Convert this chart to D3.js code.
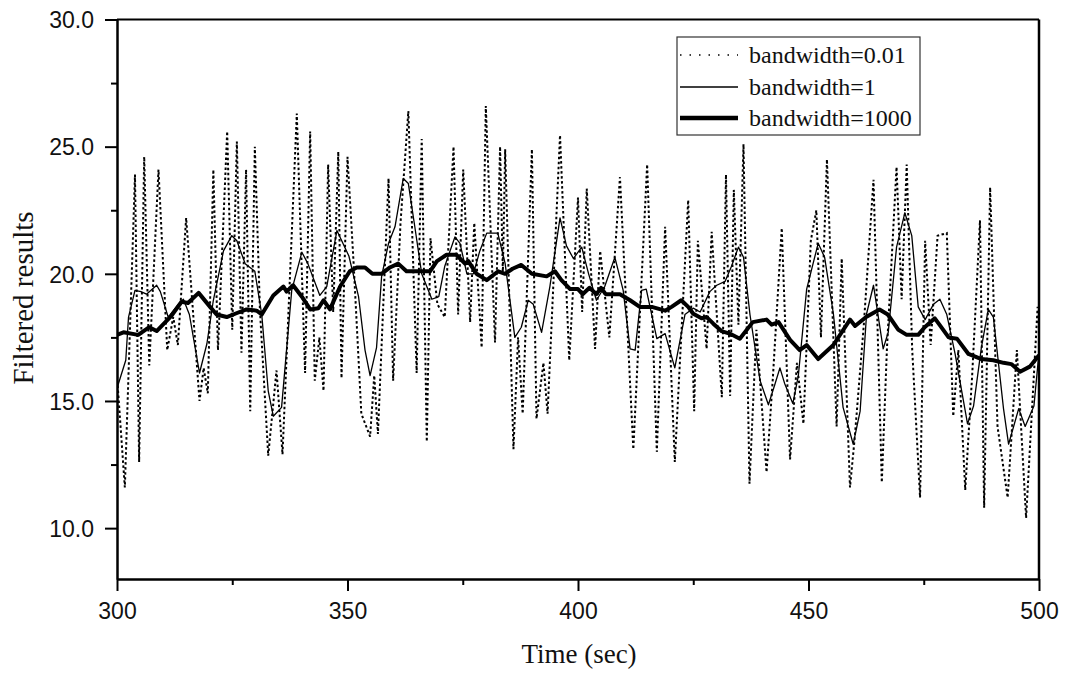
<!DOCTYPE html>
<html><head><meta charset="utf-8">
<script src="https://cdn.jsdelivr.net/npm/d3@7"></script>
<style>body{margin:0;background:#fff}</style>
</head><body>
<svg id="c" width="1065" height="673"></svg>
<script>
// ---- data ----
const xTicks = [300, 350, 400, 450, 500];
const xMinorTicks = [325, 375, 425, 475];
const yTicks = [10, 15, 20, 25, 30];
const yMinorTicks = [12.5, 17.5, 22.5, 27.5];
const seriesNames = ["bandwidth=0.01", "bandwidth=1", "bandwidth=1000"];

// bandwidth = 0.01 (dotted) : [time, value]
const bw001 = [
[300,16.0],[301.7,11.6],[303.9,23.9],[304.8,12.6],[305.9,24.6],[307.0,16.4],[309.0,24.1],[310.9,17.0],
[312.2,18.3],[313.2,17.2],[315.0,22.2],[317.9,15.0],[318.8,16.3],[319.7,15.3],[320.9,24.1],[321.9,17.0],
[323.9,25.6],[325.0,17.8],[326.0,25.2],[327.0,16.9],[328.0,24.1],[328.9,14.6],[329.9,25.0],[331.0,18.6],
[332.8,12.85],[334.6,16.2],[335.9,12.9],[339.0,26.3],[340.8,16.1],[341.9,25.6],[342.9,15.8],[343.9,17.5],
[344.8,15.4],[345.8,24.3],[346.9,18.5],[348.0,24.8],[348.7,15.9],[350.0,24.6],[351.3,20.5],[353.0,14.5],
[354.9,13.6],[355.8,16.0],[356.6,13.7],[358.9,23.75],[359.9,15.8],[361.5,22.0],[363.2,26.4],[365.0,16.1],
[366.1,25.3],[367.2,13.4],[368.0,21.4],[369.5,18.8],[371.1,18.3],[373.0,25.0],[374.0,18.4],[375.1,24.1],
[376.6,18.1],[377.5,22.0],[379.1,17.1],[380.0,26.6],[382.0,17.3],[383.1,25.0],[383.7,20.0],[384.2,24.9],
[386.0,13.1],[387.0,17.5],[388.0,14.5],[390.0,24.9],[391.0,14.3],[392.5,16.5],[393.4,14.5],[396.1,25.45],
[398.1,16.6],[400.0,23.0],[400.9,18.5],[401.9,23.35],[403.7,17.05],[404.8,20.9],[406.8,17.5],[409.1,23.8],
[412.0,13.1],[415.0,24.3],[417.1,13.0],[418.9,21.85],[421.0,12.6],[423.9,22.9],[425.2,14.6],[426.0,21.3],
[427.9,17.05],[429.0,21.65],[431.2,15.15],[432.1,23.9],[433.0,15.2],[433.8,23.3],[434.8,18.0],[435.9,25.1],
[437.2,11.75],[438.7,17.8],[440.9,12.2],[442.3,16.0],[444.2,21.8],[446.0,12.7],[447.5,16.5],[448.9,14.1],
[450.5,21.3],[451.7,22.5],[452.7,17.5],[454.0,24.5],[456.1,14.0],[457.2,20.6],[459.0,11.6],[460.0,13.5],
[462.0,18.0],[464.1,23.7],[465.9,11.8],[467.0,17.0],[469.1,24.2],[470.2,19.0],[471.3,24.3],[472.5,17.0],
[474.2,11.2],[475.3,21.3],[476.5,17.2],[478.0,21.5],[480.0,21.6],[481.4,14.4],[482.5,17.0],[484.0,11.5],
[485.5,16.0],[487.2,22.1],[488.1,10.8],[489.4,23.4],[491.0,14.0],[493.2,11.2],[495.2,17.0],[497.2,10.4],
[499.7,18.7],[500,18.0]
];

// bandwidth = 1 (thin solid)
const bw1 = [
[300,15.5],[301.9,16.6],[302.5,18.3],[303.9,19.35],[305.2,19.3],[306.4,19.2],[308.6,19.55],[309.4,19.3],
[311.1,18.3],[313.3,18.8],[314.4,19.0],[315.7,18.4],[317.9,16.1],[319.5,17.25],[320.9,18.96],[323.1,20.9],
[324.9,21.5],[326.0,21.3],[327.8,20.4],[329.9,20.1],[331.4,18.4],[332.8,15.4],[333.9,14.4],[335.7,14.75],
[337.9,19.35],[340.1,20.85],[341.4,20.4],[344.0,19.15],[345.5,19.5],[347.7,21.7],[350.3,20.7],[352.4,19.1],
[353.8,17.0],[354.9,16.0],[356.3,17.1],[357.4,19.9],[358.9,21.2],[360.3,21.85],[362.1,23.75],[363.2,23.55],
[364.6,21.85],[366.1,20.0],[368.3,19.0],[369.8,19.1],[371.1,20.3],[373.3,21.45],[374.4,21.2],[375.9,20.0],
[377.3,20.0],[378.7,20.9],[380.2,21.6],[382.6,21.6],[384.2,20.4],[386.3,17.5],[387.7,17.9],[389.2,18.96],
[390.3,18.8],[392.1,17.7],[393.9,19.5],[396.1,22.2],[397.5,21.1],[399.0,20.6],[400.8,21.05],[402.3,20.0],
[404.0,18.96],[405.8,19.5],[408.0,20.65],[409.8,19.35],[411.3,17.05],[412.4,17.0],[413.8,19.35],[414.8,19.4],
[417.1,17.45],[418.9,17.65],[421.0,16.3],[423.2,18.4],[425.0,18.65],[426.5,18.5],[428.6,19.3],[430.1,19.55],
[431.9,19.7],[433.3,20.3],[434.8,21.05],[435.9,20.65],[437.3,18.4],[439.5,15.8],[441.3,14.85],[442.7,15.65],
[443.8,16.3],[444.8,15.7],[446.6,14.9],[447.8,16.0],[449.6,19.4],[452.1,21.2],[453.5,20.65],[455.4,18.43],
[457.5,14.75],[459.7,13.3],[461.2,14.6],[462.6,18.43],[464.1,19.55],[466.2,17.05],[467.3,17.7],[469.1,21.05],
[470.9,22.4],[472.4,21.5],[473.8,18.7],[475.3,18.2],[477.1,18.8],[478.5,19.0],[480.0,18.4],[481.8,16.85],
[484.5,14.1],[485.8,14.8],[487.5,17.1],[489.0,18.6],[490.1,18.3],[492.3,14.7],[493.4,13.3],[495.6,14.7],
[497.0,14.0],[498.9,14.8],[500,16.9]
];

// bandwidth = 1000 (thick solid)
const bw1000 = [
[300,17.6],[301.4,17.7],[304.6,17.6],[307.0,17.9],[308.6,17.75],[311.8,18.35],[314.0,18.9],[315.4,18.85],
[317.7,19.25],[320.2,18.7],[321.6,18.4],[323.8,18.3],[325.9,18.45],[328.1,18.6],[330.3,18.55],[331.4,18.4],
[333.9,19.15],[336.1,19.5],[336.8,19.3],[338.2,19.55],[340.1,19.1],[341.9,18.6],[343.7,18.65],[344.8,18.96],
[346.2,18.6],[348.4,19.5],[350.5,20.1],[352.0,20.25],[353.8,20.25],[355.4,20.0],[357.4,20.0],[359.2,20.25],
[361.0,20.4],[362.8,20.1],[365.7,20.1],[367.9,20.1],[369.4,20.5],[371.5,20.75],[373.6,20.75],[375.5,20.4],
[376.2,20.5],[378.0,20.0],[380.2,19.75],[382.7,20.1],[384.2,20.0],[385.8,20.2],[387.7,20.35],[390.0,20.0],
[393.2,19.9],[395.0,20.1],[396.4,19.75],[398.3,19.4],[400.0,19.4],[401.0,19.2],[402.5,19.45],[404.0,19.2],
[405.0,19.45],[406.0,19.2],[409.1,19.2],[411.3,18.96],[413.4,18.7],[416.0,18.7],[418.9,18.55],[420.3,18.7],
[422.4,18.96],[423.9,18.7],[425.0,18.43],[426.8,18.25],[427.9,18.3],[429.3,18.05],[431.1,17.75],[432.9,17.65],
[435.1,17.45],[437.9,18.1],[440.9,18.2],[442.0,18.0],[443.5,18.1],[446.0,17.4],[448.1,17.0],[449.6,17.2],
[452.1,16.65],[455.4,17.2],[459.0,18.2],[460.1,17.95],[462.5,18.3],[465.4,18.6],[467.2,18.4],[469.5,17.8],
[471.3,17.6],[473.8,17.6],[475.2,17.9],[477.4,18.25],[478.4,18.0],[480.4,17.5],[482.2,17.45],[484.7,16.85],
[487.5,16.65],[490.1,16.6],[492.3,16.5],[494.0,16.45],[495.9,16.15],[498.0,16.35],[500,16.8]
];

// ---- drawing ----
const svg = d3.select("#c");
const L = 117, R = 1039, T = 19.5, B = 579;
const x = d3.scaleLinear().domain([300, 500]).range([L, R]);
const y = d3.scaleLinear().domain([8, 30]).range([B, T]);

const line = d3.line().x(d => x(d[0])).y(d => y(d[1]));

svg.append("clipPath").attr("id", "clip").append("rect")
  .attr("x", L).attr("y", T).attr("width", R - L).attr("height", B - T);
const plot = svg.append("g").attr("clip-path", "url(#clip)");

plot.append("path").datum(bw001).attr("d", line)
  .attr("fill", "none").attr("stroke", "#000").attr("stroke-width", 2)
  .attr("stroke-dasharray", "2.5,2.5");
plot.append("path").datum(bw1).attr("d", line)
  .attr("fill", "none").attr("stroke", "#000").attr("stroke-width", 1.3)
  .attr("stroke-linejoin", "round");
plot.append("path").datum(bw1000).attr("d", line)
  .attr("fill", "none").attr("stroke", "#000").attr("stroke-width", 4)
  .attr("stroke-linejoin", "round");

// axes
const tickFont = "'Liberation Sans', Arial, sans-serif";
const serif = "'Liberation Serif', 'Times New Roman', serif";

const xAxis = svg.append("g").attr("transform", `translate(0,${B})`)
  .call(d3.axisBottom(x).tickValues(xTicks).tickSize(12).tickSizeOuter(0).tickPadding(12).tickFormat(d3.format("d")));
const xMinor = svg.append("g").attr("transform", `translate(0,${B})`)
  .call(d3.axisBottom(x).tickValues(xMinorTicks).tickSize(6).tickSizeOuter(0).tickFormat(""));
const yAxis = svg.append("g").attr("transform", `translate(${L},0)`)
  .call(d3.axisLeft(y).tickValues(yTicks).tickSize(12).tickSizeOuter(0).tickPadding(11).tickFormat(d3.format(".1f")));
const yMinor = svg.append("g").attr("transform", `translate(${L},0)`)
  .call(d3.axisLeft(y).tickValues(yMinorTicks).tickSize(6).tickSizeOuter(0).tickFormat(""));

[xAxis, xMinor, yAxis, yMinor].forEach(g => {
  g.select(".domain").attr("stroke", "#000").attr("stroke-width", 2.5);
  g.selectAll(".tick line").attr("stroke", "#000").attr("stroke-width", 2);
  g.selectAll("text").attr("font-family", tickFont).attr("font-size", 23).attr("fill", "#111");
});
xMinor.select(".domain").remove();
yMinor.select(".domain").remove();
yAxis.selectAll("text").attr("dy", "0.36em");

// frame top & right
svg.append("line").attr("x1", L).attr("x2", R).attr("y1", T).attr("y2", T)
  .attr("stroke", "#000").attr("stroke-width", 2.2);
svg.append("line").attr("x1", R).attr("x2", R).attr("y1", T).attr("y2", B)
  .attr("stroke", "#000").attr("stroke-width", 2.5);

// axis titles
svg.append("text").attr("x", 579).attr("y", 663).attr("text-anchor", "middle")
  .attr("font-family", serif).attr("font-size", 27).attr("fill", "#111").text("Time (sec)");
svg.append("text").attr("transform", "translate(33,298) rotate(-90)").attr("text-anchor", "middle")
  .attr("font-family", serif).attr("font-size", 29).attr("fill", "#111").text("Filtered results");

// legend
const lg = svg.append("g");
lg.append("rect").attr("x", 677).attr("y", 37).attr("width", 243).attr("height", 98)
  .attr("fill", "#fff").attr("stroke", "#333").attr("stroke-width", 1.2);
const styles = [
  {w: 1.7, dash: "1.5,8"},
  {w: 1.3, dash: null},
  {w: 4.5, dash: null}
];
const rowY = [55, 87, 118];
seriesNames.forEach((name, i) => {
  const l = lg.append("line").attr("x1", 680).attr("x2", 738).attr("y1", rowY[i]).attr("y2", rowY[i])
    .attr("stroke", "#000").attr("stroke-width", styles[i].w);
  if (styles[i].dash) l.attr("stroke-dasharray", styles[i].dash);
  lg.append("text").attr("x", 749).attr("y", rowY[i] + 8)
    .attr("font-family", serif).attr("font-size", 24).attr("fill", "#111").text(name);
});
</script>
</body></html>
